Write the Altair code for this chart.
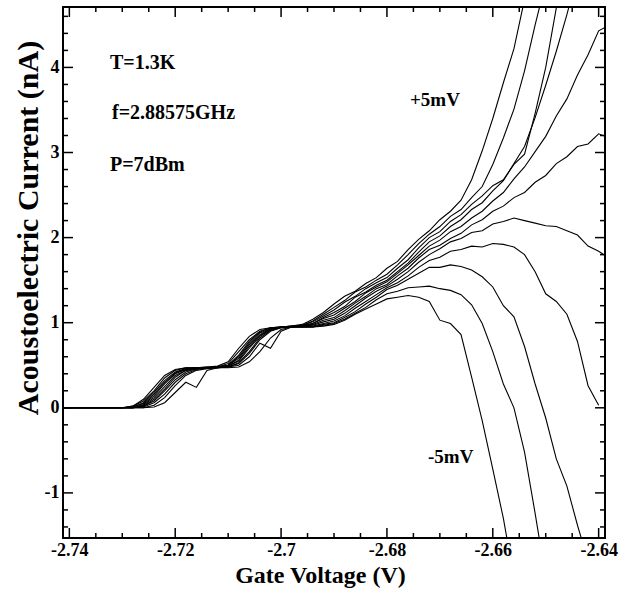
import altair as alt
import pandas as pd

gate_v = [-2.7412, -2.730, -2.728, -2.726, -2.724, -2.722, -2.720, -2.718, -2.716, -2.714,
          -2.712, -2.710, -2.708, -2.706, -2.704, -2.702, -2.700, -2.698, -2.696, -2.694,
          -2.692, -2.690, -2.688, -2.686, -2.684, -2.682, -2.680, -2.678, -2.676, -2.674,
          -2.672, -2.670, -2.668, -2.666, -2.664, -2.662, -2.660, -2.658, -2.656, -2.654,
          -2.652, -2.650, -2.648, -2.646, -2.644, -2.642, -2.640, -2.6388]

i_p5 = [0, 0, 0.02, 0.10, 0.24, 0.38, 0.45, 0.47, 0.47, 0.48, 0.49, 0.54, 0.70, 0.84, 0.92, 0.94, 0.95, 0.96, 0.98, 1.04, 1.12,
        1.22, 1.31, 1.37, 1.46, 1.53, 1.64, 1.72, 1.86, 1.98, 2.08, 2.21, 2.31, 2.44, 2.68, 3.02, 3.40, 3.82, 4.22, 4.80]
i_p4 = [0, 0, 0.01, 0.06, 0.18, 0.32, 0.42, 0.46, 0.47, 0.47, 0.48, 0.50, 0.62, 0.78, 0.89, 0.94, 0.95, 0.96, 0.97, 1.02, 1.10,
        1.18, 1.26, 1.36, 1.42, 1.50, 1.57, 1.68, 1.80, 1.93, 2.04, 2.13, 2.25, 2.33, 2.47, 2.60, 2.86, 3.17, 3.51, 3.96, 4.50, 5.00]
i_p3 = [0, 0, 0, 0.04, 0.14, 0.28, 0.40, 0.45, 0.47, 0.47, 0.48, 0.50, 0.58, 0.74, 0.86, 0.93, 0.95, 0.95, 0.97, 1.01, 1.08,
        1.15, 1.24, 1.31, 1.40, 1.47, 1.53, 1.64, 1.74, 1.88, 2.00, 2.07, 2.19, 2.27, 2.39, 2.49, 2.61, 2.68, 2.86, 2.98, 3.46,
        4.00, 4.70, 5.20]
i_p2 = [0, 0, 0, 0.02, 0.10, 0.22, 0.36, 0.44, 0.46, 0.47, 0.47, 0.49, 0.55, 0.70, 0.84, 0.92, 0.95, 0.95, 0.96, 0.99, 1.06,
        1.12, 1.19, 1.30, 1.36, 1.44, 1.50, 1.60, 1.70, 1.83, 1.95, 2.02, 2.13, 2.21, 2.33, 2.41, 2.55, 2.67, 2.87, 3.07, 3.41,
        3.79, 4.19, 4.62, 5.10]
i_p1 = [0, 0, 0.02, 0.08, 0.20, 0.35, 0.44, 0.47, 0.47, 0.48, 0.48, 0.52, 0.66, 0.80, 0.90, 0.94, 0.95, 0.96, 0.97, 0.99, 1.05,
        1.09, 1.17, 1.25, 1.35, 1.42, 1.48, 1.58, 1.68, 1.79, 1.90, 1.97, 2.07, 2.13, 2.23, 2.31, 2.43, 2.53, 2.69, 2.83, 3.01,
        3.19, 3.43, 3.63, 3.91, 4.15, 4.43, 4.47]
i_0 = [0, 0, 0.01, 0.05, 0.16, 0.30, 0.41, 0.46, 0.47, 0.47, 0.48, 0.50, 0.60, 0.76, 0.88, 0.93, 0.95, 0.95, 0.96, 0.98, 1.03,
       1.06, 1.14, 1.23, 1.31, 1.40, 1.45, 1.55, 1.64, 1.76, 1.86, 1.91, 1.99, 2.05, 2.15, 2.21, 2.31, 2.37, 2.47, 2.53, 2.65,
       2.73, 2.87, 2.95, 3.07, 3.10, 3.22, 3.19]
i_m1 = [0, 0, 0, 0.03, 0.12, 0.25, 0.38, 0.44, 0.46, 0.47, 0.48, 0.49, 0.56, 0.72, 0.85, 0.92, 0.95, 0.95, 0.96, 0.97, 1.01,
        1.04, 1.11, 1.20, 1.29, 1.37, 1.43, 1.51, 1.60, 1.71, 1.80, 1.87, 1.95, 1.99, 2.06, 2.08, 2.16, 2.19, 2.23, 2.20, 2.17,
        2.14, 2.13, 2.08, 2.03, 1.90, 1.84, 1.79]
i_m2 = [0, 0, 0, 0.01, 0.06, 0.16, 0.30, 0.40, 0.45, 0.47, 0.47, 0.48, 0.52, 0.64, 0.80, 0.90, 0.94, 0.95, 0.95, 0.96, 0.99,
        1.02, 1.08, 1.17, 1.25, 1.33, 1.41, 1.47, 1.55, 1.65, 1.73, 1.77, 1.84, 1.86, 1.90, 1.89, 1.93, 1.92, 1.89, 1.80, 1.60,
        1.34, 1.25, 1.10, 0.78, 0.26, 0.03]
i_m3 = [0, 0, 0, 0, 0.03, 0.12, 0.26, 0.38, 0.44, 0.46, 0.47, 0.48, 0.50, 0.60, 0.76, 0.70, 0.90, 0.95, 0.95, 0.95, 0.98,
        1.00, 1.06, 1.13, 1.22, 1.30, 1.39, 1.44, 1.51, 1.58, 1.65, 1.65, 1.68, 1.66, 1.62, 1.54, 1.42, 1.20, 1.07, 0.72, 0.28,
        -0.12, -0.60, -0.92, -1.38, -1.80]
i_m4 = [0, 0, 0, 0, 0.01, 0.06, 0.18, 0.30, 0.24, 0.44, 0.47, 0.47, 0.48, 0.54, 0.66, 0.82, 0.92, 0.95, 0.95, 0.95, 0.97,
        0.99, 1.04, 1.11, 1.18, 1.27, 1.34, 1.37, 1.41, 1.42, 1.43, 1.40, 1.38, 1.33, 1.21, 0.99, 0.66, 0.28, 0.00, -0.52, -1.24,
        -2.00]
i_m5 = [0, 0, 0, 0.02, 0.08, 0.20, 0.33, 0.42, 0.46, 0.47, 0.47, 0.48, 0.53, 0.66, 0.82, 0.91, 0.94, 0.95, 0.95, 0.95, 0.96,
        0.98, 1.03, 1.10, 1.16, 1.22, 1.28, 1.30, 1.32, 1.30, 1.25, 1.03, 0.99, 0.86, 0.36, -0.15, -0.72, -1.30, -2.00]

bias_labels = ["+5", "+4", "+3", "+2", "+1", "0", "-1", "-2", "-3", "-4", "-5"]
series = [i_p5, i_p4, i_p3, i_p2, i_p1, i_0, i_m1, i_m2, i_m3, i_m4, i_m5]

x_major = [-2.74, -2.72, -2.70, -2.68, -2.66, -2.64]
x_minor = [-2.735, -2.73, -2.725, -2.715, -2.71, -2.705, -2.695, -2.69, -2.685,
           -2.675, -2.67, -2.665, -2.655, -2.65, -2.645]
y_major = [-1, 0, 1, 2, 3, 4]
y_minor = [-1.4, -1.2, -0.8, -0.6, -0.4, -0.2, 0.2, 0.4, 0.6, 0.8, 1.2, 1.4, 1.6, 1.8,
           2.2, 2.4, 2.6, 2.8, 3.2, 3.4, 3.6, 3.8, 4.2, 4.4, 4.6]

rows = []
for lab, ys in zip(bias_labels, series):
    for xv, yv in zip(gate_v, ys):
        rows.append({"bias": lab, "V": xv, "I": yv})
df = pd.DataFrame(rows)

W, H = 542, 531
FONT = "Liberation Serif"
xs = alt.Scale(domain=[-2.7412, -2.6388], nice=False, zero=False)
ysc = alt.Scale(domain=[-1.53, 4.71], nice=False, zero=False)

lines = alt.Chart(df).mark_line(clip=True, color="black", strokeWidth=1.1).encode(
    x=alt.X("V:Q", scale=xs,
            axis=alt.Axis(title="Gate Voltage (V)", values=x_major, ticks=False, domain=False, grid=False,
                          labelExpr="datum.value + ''", labelFont=FONT, labelFontWeight="bold",
                          labelFontSize=18, labelColor="black", labelPadding=3,
                          titleFont=FONT, titleFontWeight="bold", titleFontSize=24, titleColor="black",
                          titleX=257, titleY=44, titleBaseline="alphabetic", titleAlign="center")),
    y=alt.Y("I:Q", scale=ysc,
            axis=alt.Axis(title=None, values=y_major, ticks=False, domain=False, grid=False,
                          labelExpr="datum.value + ''", labelFont=FONT, labelFontWeight="bold",
                          labelFontSize=18, labelColor="black", labelPadding=4)),
    detail="bias:N",
).transform_filter("isValid(datum.I)")


def xticks(vals, y1, y2):
    return alt.Chart(pd.DataFrame({"t": vals})).mark_rule(color="black", strokeWidth=1.5).encode(
        x=alt.X("t:Q", scale=xs), y=alt.value(y1), y2=alt.value(y2))


def yticks(vals, x1, x2):
    return alt.Chart(pd.DataFrame({"t": vals})).mark_rule(color="black", strokeWidth=1.5).encode(
        y=alt.Y("t:Q", scale=ysc), x=alt.value(x1), x2=alt.value(x2))


ticks = [
    xticks(x_major, H, H - 10), xticks(x_minor, H, H - 5),
    xticks(x_major, 0, 10), xticks(x_minor, 0, 5),
    yticks(y_major, 0, 10), yticks(y_minor, 0, 5),
    yticks(y_major, W, W - 10), yticks(y_minor, W, W - 5),
]

frame = alt.Chart(pd.DataFrame({"k": [0]})).mark_rect(
    fill=None, fillOpacity=0, stroke="black", strokeWidth=2
).encode(x=alt.value(0), x2=alt.value(W), y=alt.value(0), y2=alt.value(H))


def label(txt, px, py, size=20, angle=0, align="left", baseline="middle"):
    return alt.Chart(pd.DataFrame({"s": [txt]})).mark_text(
        font=FONT, fontWeight="bold", fontSize=size, color="black", align=align, baseline=baseline,
        angle=angle
    ).encode(text="s:N", x=alt.value(px), y=alt.value(py))


notes = [
    label("T=1.3K", 47, 56),
    label("f=2.88575GHz", 49, 106),
    label("P=7dBm", 47, 158),
    label("+5mV", 347, 93, size=19),
    label("-5mV", 365, 450, size=19),
    label("Acoustoelectric Current (nA)", -25, 221, size=30, angle=270, align="center", baseline="alphabetic"),
]

chart = alt.layer(lines, *ticks, frame, *notes).properties(
    width=W, height=H,
    padding={"left": 63, "top": 7, "right": 24, "bottom": 51},
    autosize=alt.AutoSizeParams(type="none"),
).configure_view(stroke=None).configure(background="white")

chart.save("out.html", embed_options={"renderer": "svg", "actions": False})
